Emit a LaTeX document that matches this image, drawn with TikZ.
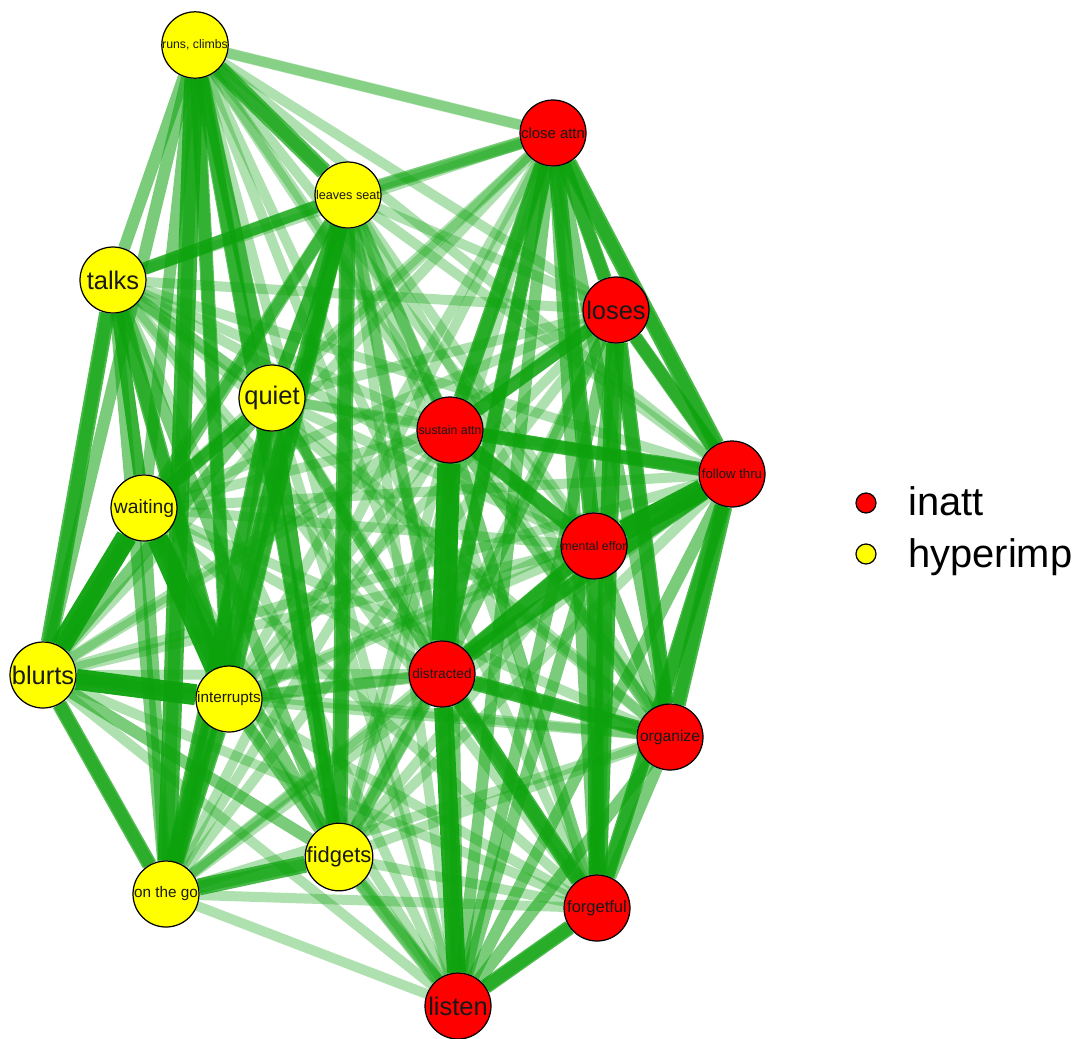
\documentclass[tikz,border=0pt]{standalone}
\usepackage{fontspec}
\setmainfont{Liberation Sans}
\usetikzlibrary{backgrounds}

\definecolor{edgegreen}{RGB}{12,162,12}
\definecolor{inattred}{RGB}{255,0,0}
\definecolor{hypyellow}{RGB}{255,255,0}
\newcommand{\labsize}[1]{\fontsize{#1}{#1}\selectfont}

\begin{document}
\begin{tikzpicture}[x=0.02cm,y=-0.02cm,
    item/.style={circle,draw=black,line width=0.7pt,minimum size=1.32cm,inner sep=0pt,text=black!90},
    inatt/.style={item,fill=inattred},
    hyper/.style={item,fill=hypyellow},
    key/.style={circle,draw=black,line width=0.7pt,minimum size=0.4cm,inner sep=0pt}]
	\useasboundingbox (0,0) rectangle (1084,1038);

	% hyperimp items
	\node[hyper,font=\labsize{7}] (rc) at (195,45) {runs, climbs};
	\node[hyper,font=\labsize{7.2}] (ls) at (348,195) {leaves seat};
	\node[hyper,font=\labsize{14.5}] (tk) at (113,280) {talks};
	\node[hyper,font=\labsize{14.5}] (qu) at (272,398) {quiet};
	\node[hyper,font=\labsize{11}] (wa) at (144,508) {waiting};
	\node[hyper,font=\labsize{14.5}] (bl) at (43,675) {blurts};
	\node[hyper,font=\labsize{8.7}] (intr) at (229,699) {interrupts};
	\node[hyper,font=\labsize{12.5}] (fi) at (339,857) {fidgets};
	\node[hyper,font=\labsize{8.7}] (og) at (166,894) {on the go};

	% inatt items
	\node[inatt,font=\labsize{8.5}] (ca) at (553,133) {close attn};
	\node[inatt,font=\labsize{14.5}] (lo) at (616,310) {loses};
	\node[inatt,font=\labsize{7}] (sa) at (450,430) {sustain attn};
	\node[inatt,font=\labsize{7.5}] (ft) at (732,474) {follow thru};
	\node[inatt,font=\labsize{7}] (me) at (594,546) {mental effor};
	\node[inatt,font=\labsize{7.8}] (di) at (442,674) {distracted};
	\node[inatt,font=\labsize{8.9}] (org) at (670,737) {organize};
	\node[inatt,font=\labsize{9.4}] (fo) at (597,908) {forgetful};
	\node[inatt,font=\labsize{14.5}] (li) at (458,1006) {listen};

	\begin{scope}[on background layer]
		% every pair across the groups
		\foreach \a in {rc,ls,tk,qu,wa,bl,intr,fi,og}
			\foreach \b in {ca,lo,sa,ft,me,di,org,fo,li}
				\draw[edgegreen,opacity=.33,line width=10*0.02cm] (\a) -- (\b);
		% every pair inside a group
		\foreach \grp in {{rc,ls,tk,qu,wa,bl,intr,fi,og},{ca,lo,sa,ft,me,di,org,fo,li}}
			\foreach \a [count=\i] in \grp
				\foreach \b [count=\j] in \grp {
					\ifnum\j>\i
						\draw[edgegreen,opacity=.55,line width=12*0.02cm] (\a) -- (\b);
					\fi
				}
		% stronger links
		\foreach \a/\b/\w/\o in {rc/ca/11/.25, ls/ca/13/.55, ls/sa/12/.5, ls/di/12/.45,
				fi/di/12/.5, fi/li/13/.5, intr/di/12/.45, qu/di/11/.4,
				rc/ls/17/.7, rc/og/19/.8, rc/intr/14/.65, rc/fi/14/.65, rc/qu/13/.55,
				ls/og/17/.75, ls/fi/16/.7, ls/tk/13/.6, ls/qu/13/.6, ls/intr/14/.65,
				tk/bl/16/.75, tk/intr/15/.7, tk/wa/12/.6, bl/og/15/.7, intr/og/15/.7,
				og/fi/17/.75, qu/og/15/.7, qu/wa/13/.65, qu/fi/12/.6,
				wa/bl/21/.95, wa/intr/21/.95, bl/intr/21/.95,
				ca/sa/15/.75, ca/me/16/.75, ca/ft/16/.75, ca/lo/14/.7, ca/di/14/.7,
				lo/fo/18/.8, lo/org/15/.75, lo/ft/14/.7, ft/org/16/.75, ft/fo/15/.75,
				ft/di/14/.7, di/fo/16/.75, di/org/15/.75, me/fo/16/.75, me/di/14/.7,
				sa/me/14/.75, sa/ft/14/.75, li/fo/15/.75, sa/lo/13/.7,
				di/li/19/.9, me/ft/21/.95, sa/di/23/.95}
			\draw[edgegreen,opacity=\o,line width=\w*0.02cm] (\a) -- (\b);
	\end{scope}

	% legend
	\node[key,fill=inattred] (keyinatt) at (866,503) {};
	\node[key,fill=hypyellow] (keyhyper) at (866,554) {};
	\node[anchor=base west,inner sep=0pt,font=\labsize{22.7}] (txtinatt) at (908,515) {inatt};
	\node[anchor=base west,inner sep=0pt,font=\labsize{22.7}] (txthyper) at (908,567) {hyperimp};
\end{tikzpicture}
\end{document}
